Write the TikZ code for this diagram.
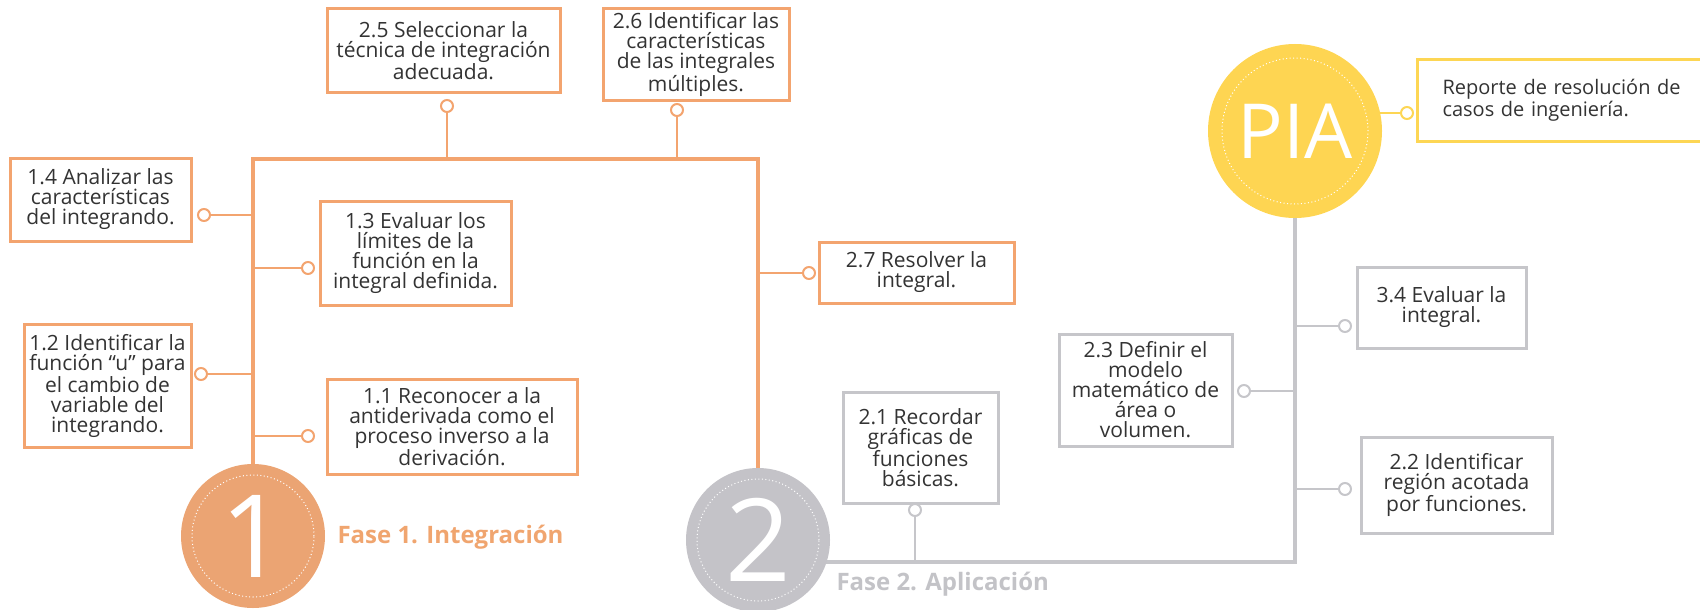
\documentclass[tikz,border=0pt]{standalone}
\usepackage{fontspec}
\setmainfont{Open Sans}
\definecolor{orL}{HTML}{F3A46F}
\definecolor{orC}{HTML}{EBA473}
\definecolor{orT}{HTML}{F0A56F}
\definecolor{grL}{HTML}{C6C6CA}
\definecolor{grC}{HTML}{C4C3C8}
\definecolor{grT}{HTML}{C3C3C7}
\definecolor{yeL}{HTML}{FDD654}
\definecolor{yeC}{HTML}{FED552}
\definecolor{txt}{HTML}{333333}
\pgfdeclarelayer{bg}
\pgfsetlayers{bg,main}
\begin{document}
\begin{tikzpicture}[x=1pt,y=-1pt,
  box/.style={draw, line width=3pt, fill=white, inner sep=0pt, align=center, text=txt, font=\fontsize{21}{20}\selectfont},
  obox/.style={box, draw=orL},
  gbox/.style={box, draw=grL},
  ybox/.style={box, draw=yeL},
  dot/.style={circle, draw, line width=2pt, fill=white, minimum size=12pt, inner sep=0pt},
  odot/.style={dot, draw=orL},
  gdot/.style={dot, draw=grL},
  ydot/.style={dot, draw=yeL},
  bigc/.style={circle, inner sep=0pt, text=white},
  oframe/.style={draw=orL, line width=4pt},
  ostub/.style={draw=orL, line width=2.5pt},
  gframe/.style={draw=grL, line width=4pt},
  gstub/.style={draw=grL, line width=2.5pt},
  ystub/.style={draw=yeL, line width=2.5pt},
  ring/.style={draw=white, line width=1pt, dash pattern=on 1pt off 2.5pt},
  fase/.style={anchor=base west, font=\bfseries\fontsize{24}{24}\selectfont}
]
\useasboundingbox (0,0) rectangle (1700,610);

% big circles
\node[bigc, fill=orC, minimum size=144pt, font=\fontsize{115}{115}\selectfont] (n1) at (253,536) {1};
\node[bigc, fill=grC, minimum size=144pt, font=\fontsize{115}{115}\selectfont] (n2) at (758,540) {2};
\node[bigc, fill=yeC, minimum size=174pt, font=\fontsize{76}{76}\selectfont] (pia) at (1295,131) {PIA};
\draw[ring] (n1.center) circle[radius=61pt];
\draw[ring] (n2.center) circle[radius=61pt];
\draw[ring] (pia.center) circle[radius=73pt];

\coordinate (tl) at (253,159);
\coordinate (tr) at (758,159);
\coordinate (br) at (1295,562);

% orange boxes
\node[obox, minimum width=233pt, minimum height=83pt] (b25) at (443.5,50.5) {2.5 Seleccionar la\\técnica de integración\\adecuada.};
\node[obox, minimum width=186pt, minimum height=91pt] (b26) at (696,54.5) {2.6 Identificar las\\características\\de las integrales\\múltiples.};
\node[obox, minimum width=181pt, minimum height=83pt] (b14) at (100.5,199.5) {1.4 Analizar las\\características\\del integrando.};
\node[obox, minimum width=191pt, minimum height=104pt] (b13) at (415.5,253) {1.3 Evaluar los\\límites de la\\función en la\\integral definida.};
\node[obox, minimum width=167pt, minimum height=123pt] (b12) at (107.5,385.5) {1.2 Identificar la\\función “u” para\\el cambio de\\variable del\\integrando.};
\node[obox, minimum width=250pt, minimum height=95pt] (b11) at (452,426.5) {1.1 Reconocer a la\\antiderivada como el\\proceso inverso a la\\derivación.};
\node[obox, minimum width=195pt, minimum height=61pt] (b27) at (916.5,272.5) {2.7 Resolver la\\integral.};

% gray boxes
\node[gbox, minimum width=155pt, minimum height=111pt] (b21) at (920.5,447.5) {2.1 Recordar\\gráficas de\\funciones\\básicas.};
\node[gbox, minimum width=173pt, minimum height=112pt] (b23) at (1145.5,390) {2.3 Definir el\\modelo\\matemático de\\área o\\volumen.};
\node[gbox, minimum width=169pt, minimum height=81pt] (b34) at (1441.5,307.5) {3.4 Evaluar la\\integral.};
\node[gbox, minimum width=191pt, minimum height=96pt] (b22) at (1456.5,485) {2.2 Identificar\\región acotada\\por funciones.};

% yellow box (runs past the right edge)
\node[ybox, anchor=west, minimum height=81pt, inner xsep=25pt, text width=260pt, align=left, font=\fontsize{20}{22}\selectfont] (brep) at (1416,100.5) {Reporte de resolución de\\casos de ingeniería.};

% connector dots
\node[odot] (c25) at (447,106) {};
\node[odot] (c26) at (677,110) {};
\node[odot] (c14) at (204,215) {};
\node[odot] (c13) at (308,268) {};
\node[odot] (c12) at (201,374) {};
\node[odot] (c11) at (308,436) {};
\node[odot] (c27) at (809,273) {};
\node[gdot] (c21) at (915,510) {};
\node[gdot] (c23) at (1244,391) {};
\node[gdot] (c34) at (1345,326) {};
\node[gdot] (c22) at (1345,489) {};
\node[ydot] (crep) at (1407,113) {};

% phase labels
\node[fase, text=orT] (f1) at (334,543) {Fase 1. Integración};
\node[fase, text=grT] (f2) at (833,590) {Fase 2. Aplicación};

\begin{pgfonlayer}{bg}
\draw[oframe] (n1.center) -- (tl) -- (tr) -- (n2.center);
\draw[ostub] (c25.center) -- (c25 |- tl);
\draw[ostub] (c26.center) -- (c26 |- tl);
\draw[ostub] (c14.center) -- (c14 -| tl);
\draw[ostub] (c13.center) -- (c13 -| tl);
\draw[ostub] (c12.center) -- (c12 -| tl);
\draw[ostub] (c11.center) -- (c11 -| tl);
\draw[ostub] (c27.center) -- (c27 -| tr);
\draw[gframe] (n2.center |- br) -- (br) -- (pia.center);
\draw[gstub] (c21.center) -- (c21 |- br);
\draw[gstub] (c23.center) -- (c23 -| br);
\draw[gstub] (c34.center) -- (c34 -| br);
\draw[gstub] (c22.center) -- (c22 -| br);
\draw[ystub] (crep.center) -- (crep -| pia.center);
\end{pgfonlayer}
\end{tikzpicture}
\end{document}
